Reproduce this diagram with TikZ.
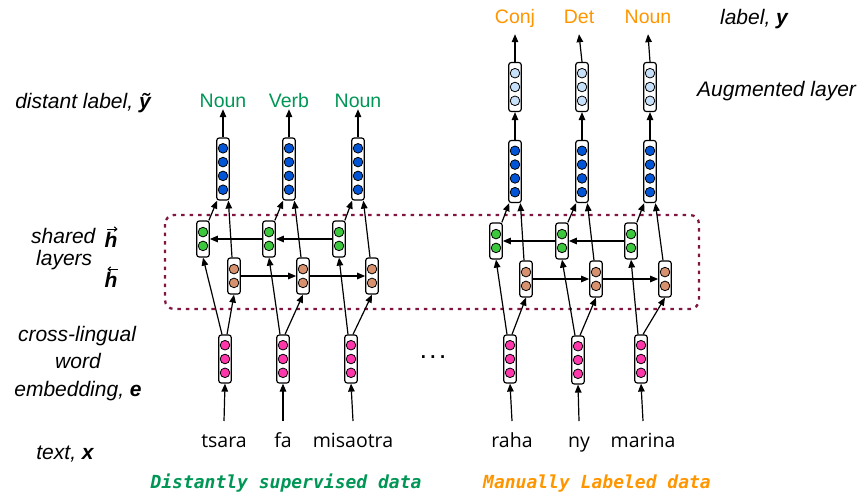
\documentclass[tikz,border=0pt]{standalone}
\usepackage{fontspec}
\setmainfont{Liberation Sans}
\newfontfamily\wordfont{Open Sans}
\newfontfamily\capfont{DejaVu Sans Mono}
\usetikzlibrary{arrows.meta,calc}
\definecolor{cblue}{RGB}{0,85,215}
\definecolor{clblue}{RGB}{200,225,250}
\definecolor{cgreen}{RGB}{60,200,60}
\definecolor{corange}{RGB}{215,145,110}
\definecolor{cpink}{RGB}{255,55,170}
\definecolor{tgreen}{RGB}{0,150,85}
\definecolor{torange}{RGB}{255,150,0}
\definecolor{cmaroon}{RGB}{130,20,65}
\newcommand\mklayer[6]{%
  \node[layerbox, minimum height=#5] (#1) at (#2,#3) {};
  \foreach \k in {1,...,#4}{\node[unitdot, fill=#6] (#1-\k) at (#2,{#3+(\k-(#4+1)/2)*13.8}) {};}
}
\begin{document}
\begin{tikzpicture}[x=1pt,y=-1pt,
  layerbox/.style={draw, line width=1.2pt, fill=white, rounded corners=2.5pt, minimum width=12.5pt, inner sep=0pt},
  unitdot/.style={circle, draw, line width=0.8pt, minimum size=9.6pt, inner sep=0pt},
  arr/.style={-{Triangle[length=8pt,width=6.5pt]}, line width=1.2pt},
  harr/.style={-{Straight Barb[length=2.5pt,width=4.5pt]}, line width=1.1pt},
  poslab/.style={font=\fontsize{19.5}{22}\selectfont, text height=14pt, text depth=0pt, inner sep=2pt},
  sidelab/.style={font=\itshape\fontsize{21}{24}\selectfont, inner sep=0pt},
  wordlab/.style={font=\wordfont\fontsize{19.5}{22}\selectfont, inner sep=0pt},
  captlab/.style={font=\capfont\bfseries\itshape\fontsize{18}{22}\selectfont, inner sep=0pt},
  dashbox/.style={draw=cmaroon, line width=2.3pt, dash pattern=on 3.5pt off 5pt, rounded corners=9pt}
]
\useasboundingbox (0,0) rectangle (866,495);

% dashed shared-layer frame
\draw[dashbox] (165,215) rectangle (699,309);

% left group layers
\mklayer{bl1}{223}{169}{4}{62pt}{cblue}
\mklayer{bl2}{289}{169}{4}{62pt}{cblue}
\mklayer{bl3}{358}{169}{4}{62pt}{cblue}
\mklayer{gl1}{203}{239}{2}{36pt}{cgreen}
\mklayer{gl2}{269}{239}{2}{36pt}{cgreen}
\mklayer{gl3}{339}{239}{2}{36pt}{cgreen}
\mklayer{ol1}{234}{276}{2}{36pt}{corange}
\mklayer{ol2}{303}{276}{2}{36pt}{corange}
\mklayer{ol3}{372}{276}{2}{36pt}{corange}
\mklayer{pl1}{225}{359}{3}{48pt}{cpink}
\mklayer{pl2}{283}{359}{3}{48pt}{cpink}
\mklayer{pl3}{351}{359}{3}{48pt}{cpink}

% right group layers
\mklayer{lr1}{515}{87}{3}{49pt}{clblue}
\mklayer{lr2}{582}{87}{3}{49pt}{clblue}
\mklayer{lr3}{650}{87}{3}{49pt}{clblue}
\mklayer{br1}{515}{171.5}{4}{62pt}{cblue}
\mklayer{br2}{582}{171.5}{4}{62pt}{cblue}
\mklayer{br3}{650}{171.5}{4}{62pt}{cblue}
\mklayer{gr1}{496}{241}{2}{36pt}{cgreen}
\mklayer{gr2}{562}{241}{2}{36pt}{cgreen}
\mklayer{gr3}{631}{241}{2}{36pt}{cgreen}
\mklayer{or1}{526}{279}{2}{36pt}{corange}
\mklayer{or2}{596}{279}{2}{36pt}{corange}
\mklayer{or3}{665}{279}{2}{36pt}{corange}
\mklayer{pr1}{510}{359}{3}{48pt}{cpink}
\mklayer{pr2}{578}{360}{3}{48pt}{cpink}
\mklayer{pr3}{641}{359}{3}{48pt}{cpink}

% output labels
\node[poslab, text=tgreen] (nl1) at (223,100) {Noun};
\node[poslab, text=tgreen] (nl2) at (289,100) {Verb};
\node[poslab, text=tgreen] (nl3) at (358,100) {Noun};
\node[poslab, text=torange, text depth=8pt] (nr1) at (515,21) {Conj};
\node[poslab, text=torange, text depth=8pt] (nr2) at (579,21) {Det};
\node[poslab, text=torange, text depth=8pt] (nr3) at (648,21) {Noun};

% words
\node[wordlab, anchor=base] (wl1) at (224,447) {tsara};
\node[wordlab, anchor=base] (wl2) at (283,447) {fa};
\node[wordlab, anchor=base] (wl3) at (353,447) {misaotra};
\node[wordlab, anchor=base] (wr1) at (512,447) {raha};
\node[wordlab, anchor=base] (wr2) at (579,447) {ny};
\node[wordlab, anchor=base] (wr3) at (643,447) {marina};
\node[font=\capfont\bfseries\fontsize{16}{18}\selectfont, inner sep=0pt] (dots) at (433,357) {...};

% captions
\node[captlab, text=tgreen, anchor=base] (cap1) at (286,488) {Distantly supervised data};
\node[captlab, text=torange, anchor=base] (cap2) at (597,488) {Manually Labeled data};

% side labels
\node[sidelab, anchor=base] (sdist) at (83,108) {distant label, \textbf{ỹ}};
\node[sidelab, anchor=base] (slab) at (754,25) {label, \textbf{y}};
\node[sidelab, anchor=base west] (saug) at (697,96) {Augmented layer};
\node[sidelab, anchor=base west] (sshared) at (31,243) {shared};
\node[sidelab, anchor=base] (shr) at (111,247) {\textbf{h}};
\node[sidelab, anchor=base west] (slayers) at (36,265) {layers};
\node[sidelab, anchor=base] (shl) at (111,287) {\textbf{h}};
\node[sidelab, anchor=base] (scross) at (77,341) {cross-lingual};
\node[sidelab, anchor=base] (sword) at (78,368) {word};
\node[sidelab, anchor=base] (semb) at (78,396) {embedding, \textbf{e}};
\node[sidelab, anchor=base] (stext) at (65,459) {text, \textbf{x}};
% vector arrows over h
\draw[harr] ($(shr.north west)+(3,-2.5)$) -- ($(shr.north east)+(0,-2.5)$);
\draw[harr] ($(shl.north east)+(0,-2.5)$) -- ($(shl.north west)+(3,-2.5)$);

% connectors
\foreach \s in {l1,l2,l3,r1,r2,r3}{
  \draw[arr] ($(w\s.base)+(0,-26)$) -- (p\s.south);
  \draw[arr] ($(p\s.north)+(-3,0)$) -- (g\s.south);
  \draw[arr] ($(p\s.north)+(2,0)$) -- (o\s.south);
  \draw[arr] ($(g\s.north east)+(-1,0)$) -- ($(b\s.south west)+(1,0)$);
  \draw[arr] ($(o\s.north)+(-2,0)$) -- ($(b\s.south east)+(-1.5,0)$);
}
\foreach \s in {l,r}{
  \draw[arr] (g\s2.west) -- (g\s1.east);
  \draw[arr] (g\s3.west) -- (g\s2.east);
  \draw[arr] (o\s1.east) -- (o\s2.west);
  \draw[arr] (o\s2.east) -- (o\s3.west);
}
\foreach \i in {1,2,3}{
  \draw[arr] (bl\i.north) -- (nl\i.south);
  \draw[arr] (br\i.north) -- (lr\i.south);
  \draw[arr] (lr\i.north) -- (nr\i.south);
}
\end{tikzpicture}
\end{document}
